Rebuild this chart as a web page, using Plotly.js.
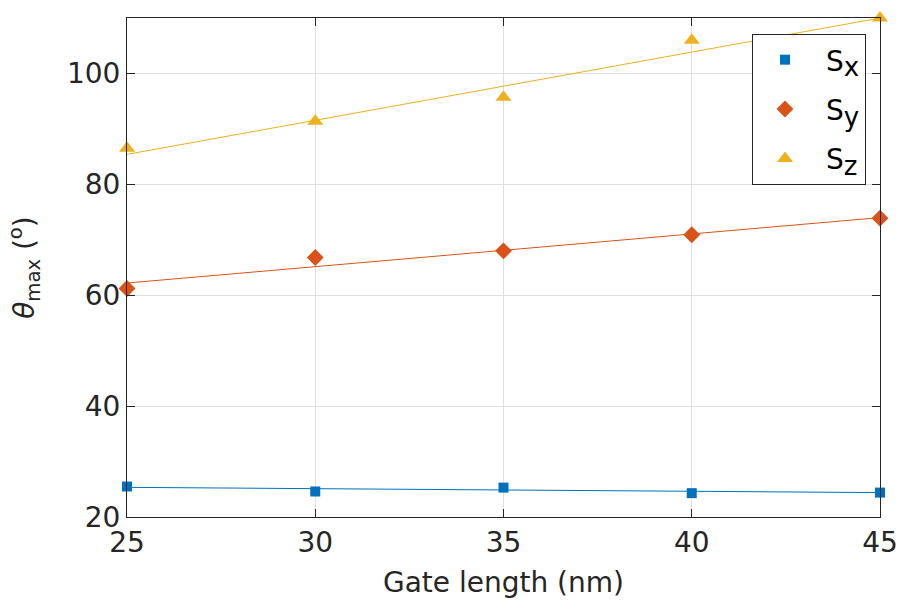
<!DOCTYPE html>
<html>
<head>
<meta charset="utf-8">
<script src="https://cdn.plot.ly/plotly-3.0.1.min.js"></script>
<style>
  html, body { margin: 0; padding: 0; background: #fff; }
  #chart { width: 900px; height: 600px; }
</style>
</head>
<body>
<div id="chart"></div>
<script>
// Gate lengths (nm)
const gateLength = [25, 30, 35, 40, 45];

// Measured theta_max (degrees) per spin component
const sx = [25.5, 24.6, 25.3, 24.3, 24.4];
const sy = [61.2, 66.8, 68.0, 70.9, 73.9];
const sz = [86.5, 91.4, 95.7, 106.0, 110.0];

// Linear fit lines, end points
const fitX = [25, 45];
const sxFit = [25.35, 24.4];
const syFit = [62.2, 74.0];
const szFit = [85.4, 110.0];

// Legend labels
const names = ['x', 'y', 'z'];

const blue = '#0072BD';
const red = '#D95319';
const yellow = '#EDB120';
const fontFamily = 'DejaVu Sans, sans-serif';

function legendLabel(sub) {
    // bigger subscript than plotly's default 70%
    return '\u00A0S<sub><span style="font-size:26px">' + sub + '</span></sub>';
}

function fitTrace(y, color) {
    return {
        x: fitX,
        y: y,
        type: 'scatter',
        mode: 'lines',
        line: { color: color, width: 1 },
        showlegend: false,
        hoverinfo: 'skip',
    };
}

function pointTrace(y, name, color, symbol, size) {
    return {
        x: gateLength,
        y: y,
        name: name,
        legendgroup: name,
        type: 'scatter',
        mode: 'markers',
        marker: { color: color, symbol: symbol, size: size },
        cliponaxis: false,
    };
}

const data = [
    fitTrace(sxFit, blue),
    fitTrace(syFit, red),
    fitTrace(szFit, yellow),
    pointTrace(sx, legendLabel(names[0]), blue, 'square', 10),
    pointTrace(sy, legendLabel(names[1]), red, 'diamond', 13),
    pointTrace(sz, legendLabel(names[2]), yellow, 'triangle-up', 14),
];

const axisCommon = {
    showline: true,
    linecolor: '#262626',
    linewidth: 1,
    mirror: 'ticks',
    ticks: 'inside',
    ticklen: 8,
    tickcolor: '#262626',
    showgrid: true,
    gridcolor: '#e0e0e0',
    zeroline: false,
    tickfont: { family: fontFamily, size: 28, color: '#262626' },
};

const layout = {
    width: 900,
    height: 600,
    paper_bgcolor: '#ffffff',
    plot_bgcolor: '#ffffff',
    margin: { l: 127, r: 20, t: 18, b: 83 },
    xaxis: Object.assign({}, axisCommon, {
        range: [25, 45],
        tickvals: gateLength,
        automargin: false,
        title: {
            text: 'Gate length (nm)',
            font: { family: fontFamily, size: 28, color: '#262626' },
            standoff: 14,
        },
    }),
    yaxis: Object.assign({}, axisCommon, {
        range: [20, 110],
        tickvals: [20, 40, 60, 80, 100],
        automargin: false,
        title: {
            text: '<i>θ</i><sub>max</sub> (<sup>o</sup>)',
            font: { family: fontFamily, size: 28, color: '#262626' },
            standoff: 24,
        },
    }),
    legend: {
        x: 0.83,
        y: 0.968,
        xanchor: 'left',
        yanchor: 'top',
        bgcolor: '#ffffff',
        bordercolor: '#262626',
        borderwidth: 1,
        traceorder: 'grouped',
        tracegroupgap: 10,
        itemwidth: 54,
        font: { family: fontFamily, size: 28, color: '#000000' },
    },
    showlegend: true,
};

Plotly.newPlot('chart', data, layout, { displayModeBar: false, staticPlot: true });
</script>
</body>
</html>
